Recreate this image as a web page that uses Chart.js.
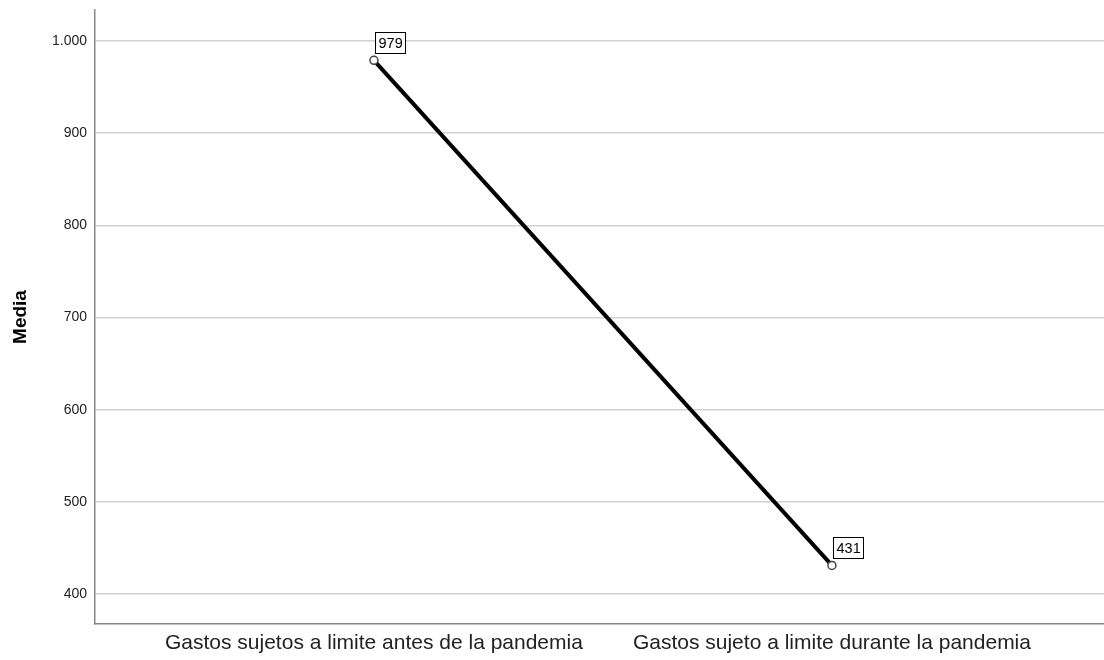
<!DOCTYPE html>
<html>
<head>
<meta charset="utf-8">
<script src="https://cdn.jsdelivr.net/npm/chart.js@4"></script>
<style>
  html, body { margin: 0; padding: 0; background: #fff; }
  #wrap { width: 1104px; height: 660px; }
</style>
</head>
<body>
<div id="wrap"><canvas id="media-chart"></canvas></div>
<script>
var categories = ["Gastos sujetos a limite antes de la pandemia", "Gastos sujeto a limite durante la pandemia"];
var means = [979, 431];
var yTicks = [400, 500, 600, 700, 800, 900, 1000];

function fmt(v) {
    return String(v).replace(/\B(?=(\d{3})+(?!\d))/g, ".");
}

// little boxed value labels like the SPSS output
var boxLabels = {
    id: "boxLabels",
    afterDatasetsDraw: function (chart) {
        var ctx = chart.ctx;
        var meta = chart.getDatasetMeta(0);
        ctx.save();
        ctx.font = "14.5px 'Liberation Sans', Arial, sans-serif";
        ctx.textBaseline = "middle";
        meta.data.forEach(function (pt, i) {
            var txt = fmt(means[i]);
            var w = Math.round(ctx.measureText(txt).width) + 6;
            var h = 21;
            var x = Math.round(pt.x) + 1.5;
            var y = Math.round(pt.y) - 6.5 - h;
            ctx.fillStyle = "#fff";
            ctx.fillRect(x, y, w, h);
            ctx.strokeStyle = "#000";
            ctx.lineWidth = 1;
            ctx.strokeRect(x, y, w, h);
            ctx.fillStyle = "#000";
            ctx.fillText(txt, x + 3, y + h / 2 + 1);
        });
        ctx.restore();
    }
};

document.addEventListener("DOMContentLoaded", function () {
    var ctx = document.getElementById("media-chart").getContext("2d");
    var chart = new Chart(ctx, {
        type: "line",
        data: {
            datasets: [{
                label: "Media",
                data: means.map(function (v, i) { return { x: i, y: v }; }),
                borderColor: "#000",
                borderWidth: 4,
                pointRadius: 4,
                pointBorderWidth: 1.5,
                pointBorderColor: "#444",
                pointBackgroundColor: "#fff",
                tension: 0
            }]
        },
        options: {
            responsive: true,
            maintainAspectRatio: false,
            animation: false,
            layout: { autoPadding: false, padding: { top: 10, right: 0, left: 0, bottom: 0 } },
            plugins: {
                legend: { display: false },
                tooltip: { enabled: false }
            },
            scales: {
                x: {
                    type: "linear",
                    min: -0.609,
                    max: 1.594,
                    grid: { display: false, drawTicks: false },
                    border: { color: "#888", width: 1.5 },
                    afterBuildTicks: function (s) {
                        s.ticks = categories.map(function (c, i) { return { value: i }; });
                    },
                    afterFit: function (s) {
                        s.height = 36;
                        s.paddingLeft = 0;
                        s.paddingRight = 0;
                    },
                    ticks: {
                        padding: 7,
                        color: "#222",
                        maxRotation: 0,
                        autoSkip: false,
                        font: { family: "'Liberation Sans', Arial, sans-serif", size: 21 },
                        callback: function (v) { return categories[v]; }
                    }
                },
                y: {
                    min: 367.5,
                    max: 1033.6,
                    afterBuildTicks: function (s) {
                        s.ticks = yTicks.map(function (v) { return { value: v }; });
                    },
                    afterFit: function (s) {
                        s.width = 95;
                        s.paddingTop = 0;
                        s.paddingBottom = 0;
                    },
                    grid: { color: "#d2d2d2", lineWidth: 1.5, drawTicks: false },
                    border: { color: "#888", width: 1.5 },
                    title: {
                        display: true,
                        text: "Media",
                        color: "#000",
                        font: { family: "'Liberation Sans', Arial, sans-serif", size: 19, weight: "bold" },
                        padding: { top: 9, bottom: 0 }
                    },
                    ticks: {
                        padding: 8,
                        color: "#222",
                        font: { family: "'Liberation Sans', Arial, sans-serif", size: 14 },
                        callback: function (v) { return fmt(v); }
                    }
                }
            }
        },
        plugins: [boxLabels]
    });
});
</script>
</body>
</html>
